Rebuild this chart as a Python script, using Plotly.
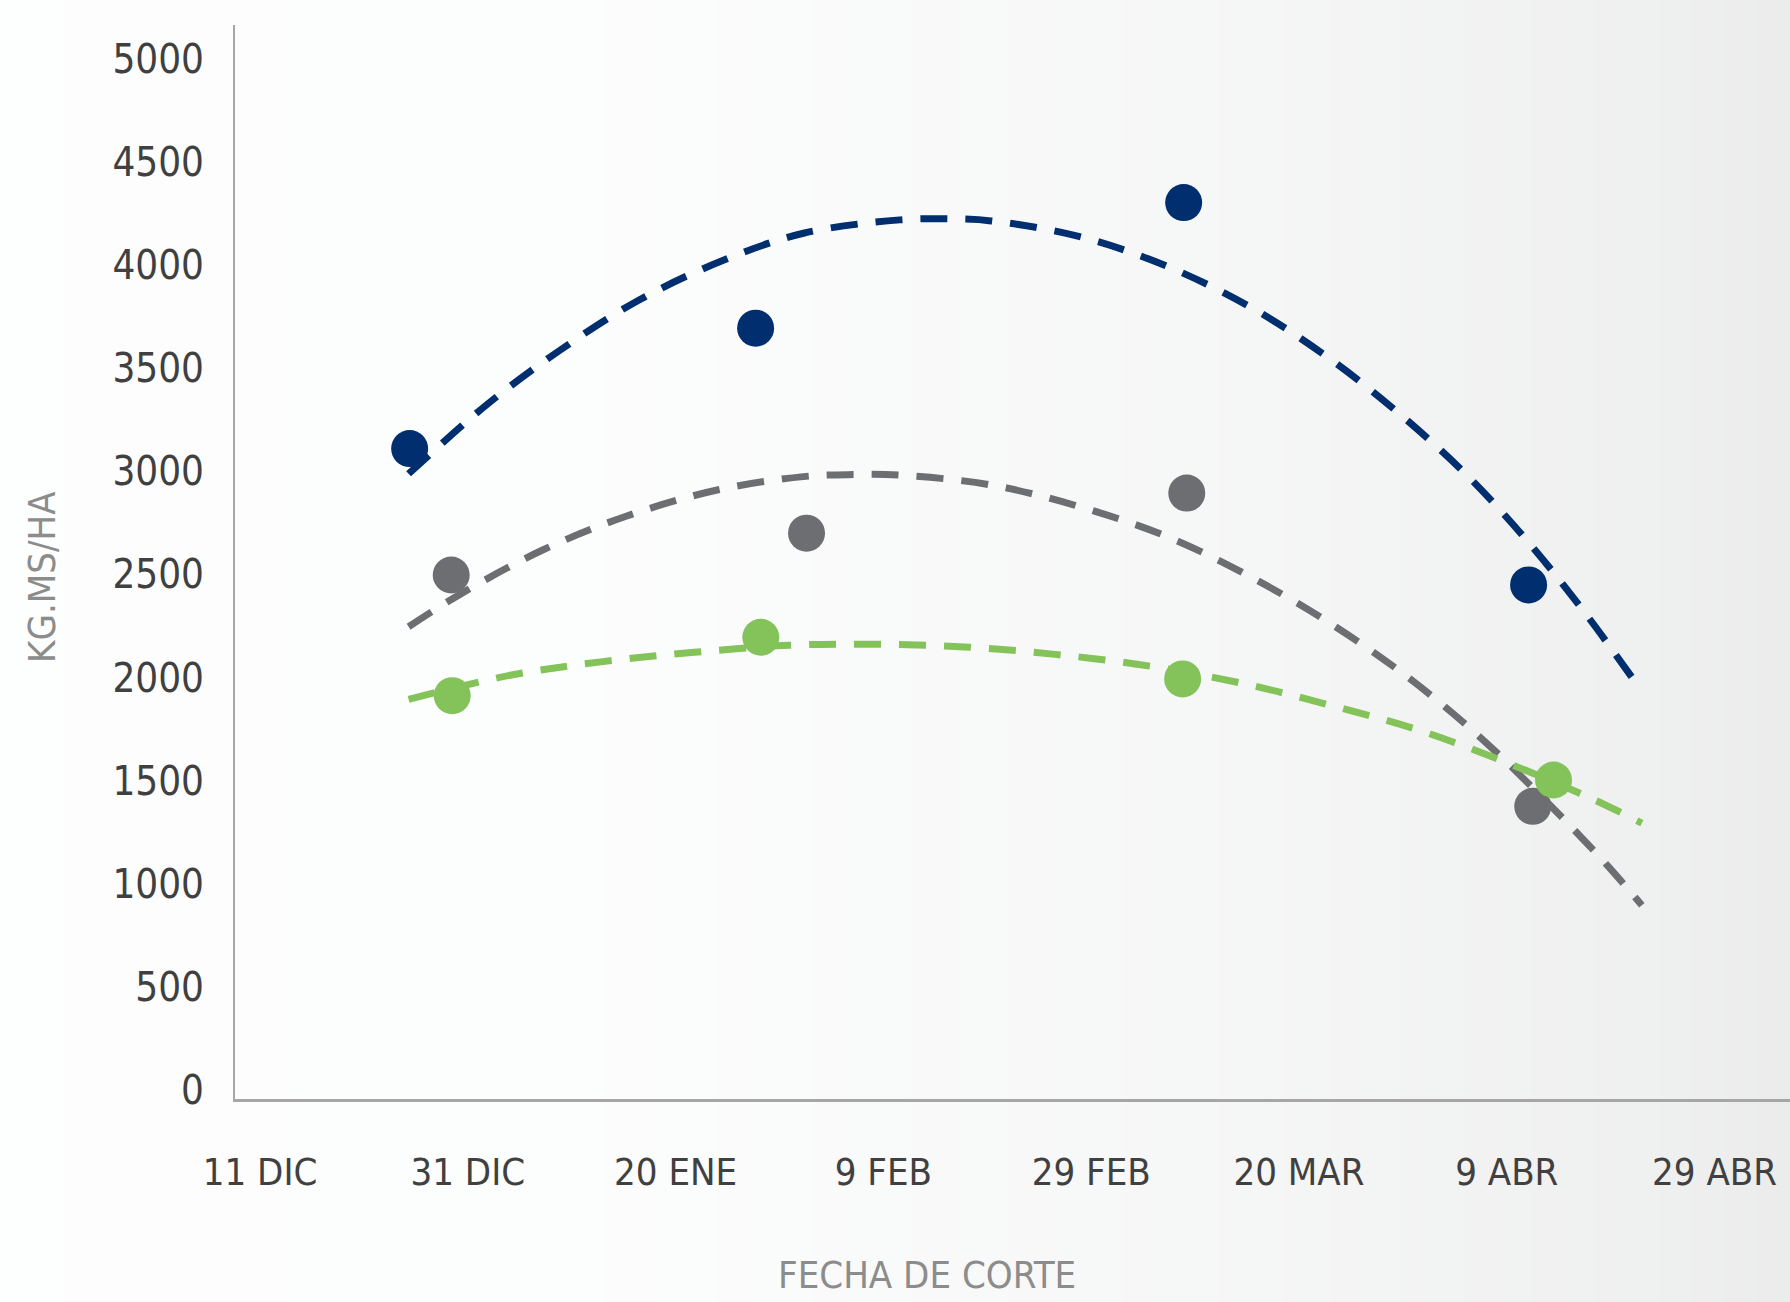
import plotly.graph_objects as go

# ---- data (x = days after 11 DIC 2023) ----
tick_days = [0, 20, 40, 60, 80, 100, 120, 140]
tick_text = ["11 DIC", "31 DIC", "20 ENE", "9 FEB", "29 FEB", "20 MAR", "9 ABR", "29 ABR"]
y_ticks = [0, 500, 1000, 1500, 2000, 2500, 3000, 3500, 4000, 4500, 5000]

days_blue = [14.4, 47.7, 88.9, 122.1]
kg_blue = [3154, 3738, 4347, 2493]
days_gray = [18.4, 52.6, 89.2, 122.5]
kg_gray = [2541, 2744, 2938, 1419]
days_green = [18.5, 48.2, 88.8, 124.5]
kg_green = [1956, 2239, 2037, 1547]

# trend lines (polynomial)
trend_blue_d = [14.3, 21.8, 28.9, 36.4, 44.3, 52.3, 61.6, 66.1, 70.4, 79.1, 87.4, 95.5, 102.9, 109.8, 116.3, 122.3, 127.8, 132.7]
trend_blue_v = [3032, 3366, 3632, 3872, 4061, 4198, 4263, 4268, 4258, 4179, 4036, 3835, 3592, 3317, 3018, 2687, 2339, 1998]
trend_gray_d = [14.3, 19.4, 27.2, 35.3, 44.0, 52.3, 57.1, 61.6, 70.3, 78.9, 87.3, 95.3, 102.9, 110.2, 117.0, 123.2, 129.5, 133.0]
trend_gray_v = [2290, 2452, 2662, 2827, 2953, 3018, 3028, 3025, 2978, 2872, 2727, 2533, 2310, 2056, 1774, 1474, 1143, 939]
trend_green_d = [14.3, 24.2, 33.0, 41.8, 50.9, 59.5, 68.3, 77.1, 85.9, 94.5, 103.2, 111.7, 120.0, 128.2, 133.0]
trend_green_v = [1938, 2056, 2121, 2166, 2200, 2205, 2191, 2153, 2097, 2016, 1907, 1786, 1631, 1456, 1338]

BLUE = "#002E6E"
GRAY = "#6D6E71"
GREEN = "#83C35A"
FONT = "DejaVu Sans Condensed, Liberation Sans Narrow, sans-serif"

W, H = 1790, 1302
ML, MR, MT, MB = 235, 0, 25, 203
PW, PH = W - ML - MR, H - MT - MB

fig = go.Figure()

for d, v, c in [(days_blue, kg_blue, BLUE), (days_gray, kg_gray, GRAY), (days_green, kg_green, GREEN)]:
    fig.add_trace(go.Scatter(x=d, y=v, mode="markers",
                             marker=dict(size=37, color=c, line=dict(width=0)),
                             showlegend=False, hoverinfo="skip"))

for d, v, c in [(trend_blue_d, trend_blue_v, BLUE), (trend_gray_d, trend_gray_v, GRAY),
                (trend_green_d, trend_green_v, GREEN)]:
    fig.add_trace(go.Scatter(x=d, y=v, mode="lines",
                             line=dict(color=c, width=7, dash="27px,18px", shape="spline"),
                             showlegend=False, hoverinfo="skip"))

# background gradient (left white -> right light gray)
stops = [(0, 253), (600, 252), (800, 250), (1210, 246), (1650, 239), (1790, 235)]
def shade(px):
    for (x0, c0), (x1, c1) in zip(stops[:-1], stops[1:]):
        if x0 <= px <= x1:
            return c0 + (c1 - c0) * (px - x0) / (x1 - x0)
    return stops[-1][1]

shapes = []
n = 110
step = W / n
for i in range(n):
    px0 = i * step
    px1 = px0 + step + 1
    g = shade(px0 + step / 2)
    col = "rgb(%d,%d,%d)" % (round(g), round(g + 0.6), round(g + 0.6))
    shapes.append(dict(type="rect", xref="paper", yref="paper", layer="below",
                       x0=(px0 - ML) / PW, x1=(px1 - ML) / PW,
                       y0=-(MB + 2) / PH, y1=1 + (MT + 2) / PH,
                       fillcolor=col, line=dict(width=0)))

fig.update_layout(
    width=W, height=H,
    margin=dict(l=ML, r=MR, t=MT, b=MB),
    paper_bgcolor="white", plot_bgcolor="rgba(0,0,0,0)",
    shapes=shapes,
    font=dict(family=FONT),
    xaxis=dict(range=[-2.41, 147.26], tickvals=tick_days, ticktext=tick_text,
               showgrid=False, zeroline=False, showline=True, linecolor="#A6A6A6", linewidth=2.5,
               ticks="", tickfont=dict(size=38, color="#404040"), ticklabelstandoff=38),
    yaxis=dict(range=[0, 5208], tickvals=y_ticks, showgrid=False, zeroline=False,
               showline=True, linecolor="#A6A6A6", linewidth=2,
               ticks="", tickfont=dict(size=40, color="#404040"), ticklabelstandoff=21,
               ticklabelshift=-9),
    annotations=[
        dict(text="KG.MS/HA", xref="paper", yref="paper", x=(42 - ML) / PW, y=(H - MB - 577) / PH,
             showarrow=False, textangle=-90, font=dict(size=38, color="#8C8C8C"),
             xanchor="center", yanchor="middle"),
        dict(text="FECHA DE CORTE", xref="paper", yref="paper", x=(927 - ML) / PW, y=(H - MB - 1275) / PH,
             showarrow=False, font=dict(size=38, color="#8C8C8C"),
             xanchor="center", yanchor="middle"),
    ],
)

fig.write_html("out.html", config={"displayModeBar": False},
               post_script="document.body.style.margin='0';document.body.style.overflow='hidden';")
